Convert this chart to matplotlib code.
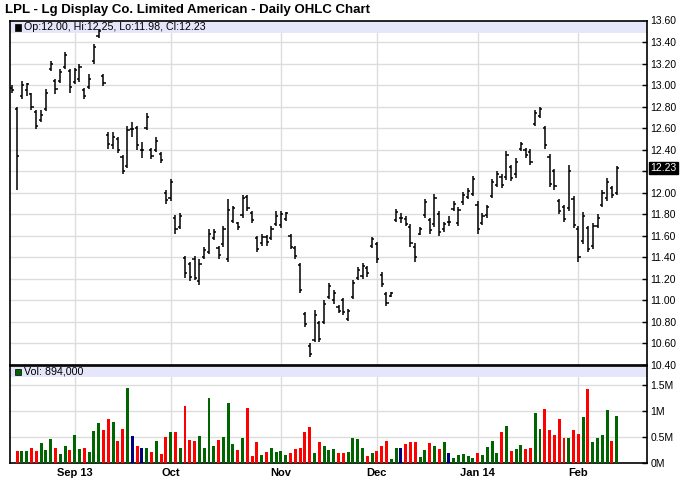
import numpy as np
import pandas as pd
import matplotlib
matplotlib.use("Agg")
import matplotlib.pyplot as plt
from matplotlib.patches import Rectangle

plt.rcParams['font.family'] = ['Liberation Sans', 'DejaVu Sans']

# trading days, NYSE holidays removed
holidays = ['2013-09-02', '2013-11-28', '2013-12-25', '2014-01-01', '2014-01-20']
dates = pd.bdate_range('2013-08-14', '2014-02-13', freq='C', holidays=holidays)

highs = [13.00, 12.80, 13.04, 13.02, 12.93, 12.77, 12.77, 12.96, 13.22, 13.06,
         13.15, 13.31, 13.15, 13.16, 13.20, 12.97, 13.10, 13.38, 13.52, 13.10,
         12.56, 12.56, 12.52, 12.35, 12.62, 12.66, 12.62, 12.47, 12.74, 12.42,
         12.52, 12.38, 12.03, 12.13, 11.79, 11.81, 11.41, 11.36, 11.41, 11.38,
         11.50, 11.66, 11.66, 11.51, 11.69, 11.94, 11.88, 11.73, 11.98, 11.98,
         11.83, 11.60, 11.62, 11.61, 11.69, 11.83, 11.83, 11.82, 11.62, 11.51,
         11.35, 10.89, 10.60, 10.91, 10.81, 11.00, 11.16, 11.10, 10.96, 11.02,
         10.92, 11.19, 11.31, 11.35, 11.32, 11.59, 11.54, 11.26, 11.08, 11.08,
         11.85, 11.81, 11.78, 11.71, 11.53, 11.68, 11.94, 11.77, 11.99, 11.83,
         11.73, 11.78, 11.92, 11.87, 12.01, 12.04, 12.16, 11.92, 11.81, 11.89,
         12.13, 12.20, 12.17, 12.39, 12.26, 12.32, 12.47, 12.42, 12.41, 12.77,
         12.80, 12.62, 12.36, 12.22, 11.94, 11.89, 12.26, 11.97, 11.69, 11.82,
         11.69, 11.72, 11.80, 12.03, 12.14, 12.06, 12.25]
lows = [12.93, 12.03, 12.87, 12.90, 12.77, 12.59, 12.66, 12.76, 13.13, 12.92,
        13.02, 13.15, 12.93, 13.01, 13.03, 12.87, 12.96, 13.20, 13.44, 12.99,
        12.41, 12.41, 12.37, 12.17, 12.23, 12.52, 12.40, 12.32, 12.58, 12.31,
        12.38, 12.28, 11.90, 11.92, 11.62, 11.66, 11.21, 11.18, 11.19, 11.14,
        11.38, 11.43, 11.56, 11.38, 11.50, 11.36, 11.72, 11.65, 11.77, 11.83,
        11.72, 11.45, 11.51, 11.51, 11.56, 11.69, 11.67, 11.74, 11.48, 11.38,
        11.07, 10.75, 10.47, 10.61, 10.61, 10.78, 11.01, 10.97, 10.88, 10.86,
        10.81, 11.01, 11.19, 11.20, 11.22, 11.49, 11.35, 11.12, 10.95, 11.03,
        11.73, 11.72, 11.69, 11.50, 11.36, 11.61, 11.77, 11.62, 11.68, 11.60,
        11.64, 11.69, 11.83, 11.69, 11.89, 11.94, 11.97, 11.62, 11.70, 11.77,
        11.95, 12.05, 12.04, 12.12, 12.11, 12.14, 12.39, 12.32, 12.26, 12.62,
        12.69, 12.41, 12.05, 12.03, 11.80, 11.73, 11.83, 11.67, 11.36, 11.52,
        11.45, 11.48, 11.67, 11.87, 11.92, 11.95, 11.98]
opens = [12.97, 12.78, 12.90, 12.95, 12.92, 12.75, 12.68, 12.78, 13.15, 13.04,
         13.04, 13.17, 13.13, 13.03, 13.06, 12.95, 12.98, 13.22, 13.46, 13.08,
         12.54, 12.44, 12.50, 12.33, 12.25, 12.59, 12.60, 12.40, 12.60, 12.40,
         12.40, 12.36, 12.00, 11.95, 11.77, 11.68, 11.39, 11.34, 11.38, 11.18,
         11.40, 11.45, 11.58, 11.49, 11.52, 11.38, 11.74, 11.72, 11.79, 11.96,
         11.81, 11.58, 11.53, 11.59, 11.58, 11.71, 11.70, 11.76, 11.60, 11.49,
         11.33, 10.87, 10.58, 10.63, 10.79, 10.80, 11.03, 11.00, 10.94, 11.00,
         10.83, 11.03, 11.21, 11.23, 11.30, 11.51, 11.52, 11.24, 11.06, 11.04,
         11.75, 11.77, 11.76, 11.68, 11.50, 11.62, 11.79, 11.75, 11.71, 11.80,
         11.66, 11.73, 11.85, 11.72, 11.91, 11.96, 11.99, 11.89, 11.72, 11.79,
         11.97, 12.07, 12.15, 12.15, 12.24, 12.17, 12.41, 12.40, 12.38, 12.64,
         12.71, 12.60, 12.33, 12.20, 11.92, 11.87, 11.86, 11.94, 11.66, 11.55,
         11.67, 11.51, 11.69, 11.89, 11.95, 12.04, 12.00]
closes = [12.95, 12.34, 13.00, 13.01, 12.80, 12.62, 12.72, 12.93, 13.20, 12.96,
          13.12, 13.28, 12.98, 13.14, 13.17, 12.90, 13.06, 13.35, 13.50, 13.02,
          12.45, 12.52, 12.40, 12.20, 12.58, 12.59, 12.44, 12.40, 12.70, 12.34,
          12.48, 12.30, 11.93, 12.10, 11.66, 11.78, 11.25, 11.22, 11.21, 11.34,
          11.47, 11.62, 11.64, 11.42, 11.66, 11.84, 11.86, 11.68, 11.95, 11.86,
          11.75, 11.48, 11.59, 11.54, 11.66, 11.78, 11.80, 11.81, 11.50, 11.41,
          11.10, 10.78, 10.50, 10.86, 10.64, 10.97, 11.13, 11.07, 10.90, 10.89,
          10.90, 11.16, 11.28, 11.32, 11.25, 11.57, 11.38, 11.15, 10.98, 11.07,
          11.82, 11.77, 11.71, 11.53, 11.40, 11.66, 11.91, 11.65, 11.95, 11.64,
          11.71, 11.73, 11.90, 11.84, 11.98, 12.02, 12.13, 11.66, 11.78, 11.87,
          12.10, 12.17, 12.07, 12.35, 12.14, 12.29, 12.45, 12.35, 12.29, 12.74,
          12.78, 12.44, 12.08, 12.06, 11.83, 11.76, 12.20, 11.70, 11.40, 11.78,
          11.48, 11.69, 11.77, 12.00, 12.10, 11.98, 12.23]
# volume in millions of shares
volume = [0.00, 0.23, 0.23, 0.23, 0.29, 0.23, 0.37, 0.24, 0.45, 0.29,
          0.17, 0.32, 0.24, 0.53, 0.26, 0.28, 0.21, 0.61, 0.76, 0.63,
          0.85, 0.78, 0.42, 0.64, 1.43, 0.51, 0.32, 0.29, 0.29, 0.21,
          0.42, 0.17, 0.49, 0.59, 0.59, 0.29, 1.10, 0.44, 0.42, 0.51,
          0.29, 1.24, 0.32, 0.44, 0.49, 1.15, 0.36, 0.24, 0.47, 1.06,
          0.13, 0.40, 0.15, 0.21, 0.28, 0.21, 0.22, 0.15, 0.19, 0.26,
          0.28, 0.59, 0.68, 0.19, 0.40, 0.32, 0.24, 0.26, 0.19, 0.19,
          0.21, 0.48, 0.46, 0.28, 0.12, 0.18, 0.23, 0.32, 0.42, 0.07,
          0.28, 0.29, 0.36, 0.40, 0.40, 0.11, 0.24, 0.38, 0.33, 0.26,
          0.40, 0.18, 0.09, 0.15, 0.16, 0.13, 0.09, 0.18, 0.15, 0.31,
          0.42, 0.19, 0.59, 0.71, 0.22, 0.26, 0.35, 0.27, 0.29, 0.95,
          0.64, 1.04, 0.62, 0.54, 0.85, 0.47, 0.47, 0.62, 0.55, 0.88,
          1.42, 0.39, 0.47, 0.53, 1.02, 0.42, 0.894]

month_labels = ['Sep 13', 'Oct', 'Nov', 'Dec', 'Jan 14', 'Feb']
price_ticks = [10.40, 10.60, 10.80, 11.00, 11.20, 11.40, 11.60, 11.80,
               12.00, 12.20, 12.40, 12.60, 12.80, 13.00, 13.20, 13.40, 13.60]
vol_ticks = [0, 0.5, 1.0, 1.5]
vol_labels = ['0M', '0.5M', '1M', '1.5M']

W, H = 688, 503


def rect(x0, y0, x1, y1):
    # pixel box (top-left origin) -> figure fraction
    return [x0 / W, 1 - y1 / H, (x1 - x0) / W, (y1 - y0) / H]


x = np.arange(len(dates))
o, h, l, c = map(np.array, (opens, highs, lows, closes))
bar_colors = np.where(c > o, '#006400', np.where(c < o, '#ff0000', '#000080'))
month_pos = [i for i in range(1, len(dates)) if dates[i].month != dates[i - 1].month]

fig = plt.figure(figsize=(W / 100, H / 100), dpi=100)
ax = fig.add_axes(rect(10, 20.5, 646.5, 365))
axv = fig.add_axes(rect(10, 366, 646.5, 462.7))

for a in (ax, axv):
    a.set_xlim(-0.48, 132.2)
    a.set_xticks(month_pos)
    a.set_axisbelow(True)
    a.grid(True, color='#dddddd', lw=1)
    for s in a.spines.values():
        s.set_color('black')
        s.set_linewidth(1.2)
    a.yaxis.tick_right()
    a.tick_params(axis='y', direction='in', length=3.5, width=1, pad=3,
                  labelsize=7.5, colors='black')
    a.tick_params(axis='x', length=0)

# price panel
ax.vlines(x, l, h, color='black', lw=1.1, zorder=3)
ax.hlines(o, x - 0.45, x, color='black', lw=1.1, zorder=3)
ax.hlines(c, x, x + 0.45, color='black', lw=1.1, zorder=3)
ax.set_ylim(10.40, 13.60)
ax.set_yticks(price_ticks)
# the last-price box takes the place of the nearest label
ax.set_yticklabels(['' if abs(t - closes[-1]) < 0.1 else '%.2f' % t for t in price_ticks])
ax.tick_params(axis='x', labelbottom=False)
ax.add_patch(Rectangle((0, 1 - 12 / 344.5), 1, 12 / 344.5, transform=ax.transAxes,
                       facecolor='#e6e6fa', edgecolor='none', zorder=1))
ax.add_patch(Rectangle((14.5 / W, 1 - 30.5 / H), 6 / W, 6 / H, transform=fig.transFigure,
                       facecolor='black', edgecolor='black', lw=0.5, zorder=4))
fig.text(24 / W, 1 - 27.5 / H,
         'Op:%.2f, Hi:%.2f, Lo:%.2f, Cl:%.2f' % (opens[-1], highs[-1], lows[-1], closes[-1]),
         fontsize=7.7, va='center', ha='left', zorder=4)

# last price marker
ax.text(1.006, closes[-1], '%.2f' % closes[-1], transform=ax.get_yaxis_transform(),
        fontsize=7.5, color='white', va='center', ha='left', zorder=5,
        bbox=dict(boxstyle='square,pad=0.12', facecolor='black', edgecolor='black'))

# volume panel
axv.bar(x, volume, width=0.62, color=bar_colors, zorder=3)
axv.set_ylim(0, 1.86)
axv.set_yticks(vol_ticks)
axv.set_yticklabels(vol_labels)
axv.set_xticklabels(month_labels, fontsize=8, fontweight='bold')
axv.tick_params(axis='x', pad=4)
axv.add_patch(Rectangle((0, 1 - 11 / 96.7), 1, 11 / 96.7, transform=axv.transAxes,
                        facecolor='#e6e6fa', edgecolor='none', zorder=1))
axv.add_patch(Rectangle((14.5 / W, 1 - 375 / H), 6 / W, 6 / H, transform=fig.transFigure,
                        facecolor='#006400', edgecolor='black', lw=0.5, zorder=4))
fig.text(24 / W, 1 - 372 / H, 'Vol: {:,}'.format(int(round(volume[-1] * 1e6))),
         fontsize=7.7, va='center', ha='left', zorder=4)

fig.text(5 / W, 1 - 10.5 / H, 'LPL - Lg Display Co. Limited American - Daily OHLC Chart',
         fontsize=9.5, fontweight='bold', va='center', ha='left')

fig.savefig('out.png', dpi=100)
